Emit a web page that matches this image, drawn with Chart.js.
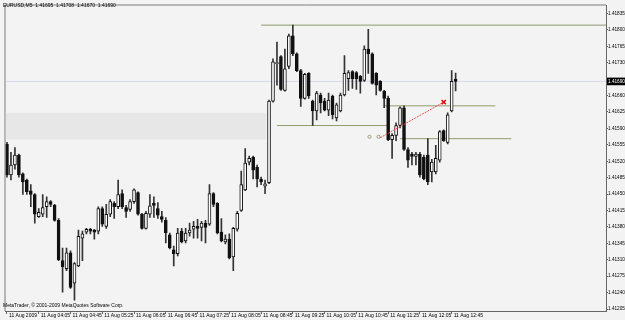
<!DOCTYPE html>
<html>
<head>
<meta charset="utf-8">
<script src="https://cdn.jsdelivr.net/npm/chart.js@4.4.0/dist/chart.umd.min.js"></script>
<style>
  html, body { margin: 0; padding: 0; background: #f3f3f3; }
  #chart { display: block; }
</style>
</head>
<body>
<canvas id="chart" width="625" height="320"></canvas>
<script>
// EURUSD M5 bars, 11 Aug 2009 from 03:25
const symbol = 'EURUSD,M5';
const opens = [
  1.41556, 1.41491, 1.41512, 1.41533, 1.41493, 1.41480, 1.41457, 1.41449, 1.41402, 1.41407,
  1.41423, 1.41434, 1.41426, 1.41394, 1.41308, 1.41291, 1.41325, 1.41260, 1.41297, 1.41356,
  1.41369, 1.41375, 1.41373, 1.41371, 1.41419, 1.41381, 1.41407, 1.41430, 1.41423, 1.41451,
  1.41421, 1.41417, 1.41434, 1.41453, 1.41407, 1.41377, 1.41407, 1.41430, 1.41419, 1.41402,
  1.41394, 1.41363, 1.41331, 1.41323, 1.41371, 1.41350, 1.41367, 1.41375, 1.41381, 1.41379,
  1.41388, 1.41386, 1.41451, 1.41430, 1.41369, 1.41348, 1.41354, 1.41316, 1.41375, 1.41415,
  1.41459, 1.41518, 1.41528, 1.41507, 1.41482, 1.41467, 1.41474, 1.41648, 1.41728, 1.41743,
  1.41671, 1.41722, 1.41787, 1.41749, 1.41713, 1.41654, 1.41707, 1.41648, 1.41627, 1.41661,
  1.41648, 1.41629, 1.41659, 1.41612, 1.41627, 1.41661, 1.41696, 1.41711, 1.41709, 1.41701,
  1.41692, 1.41759, 1.41749, 1.41707, 1.41690, 1.41669, 1.41654, 1.41566, 1.41575, 1.41596,
  1.41634, 1.41545, 1.41535, 1.41530, 1.41535, 1.41528, 1.41533, 1.41497, 1.41497, 1.41522,
  1.41585, 1.41560, 1.41627, 1.41695
];
const highs = [
  1.41560, 1.41539, 1.41549, 1.41535, 1.41495, 1.41482, 1.41470, 1.41451, 1.41419, 1.41449,
  1.41444, 1.41436, 1.41428, 1.41398, 1.41335, 1.41335, 1.41329, 1.41304, 1.41373, 1.41371,
  1.41377, 1.41377, 1.41375, 1.41423, 1.41423, 1.41428, 1.41438, 1.41434, 1.41480, 1.41459,
  1.41426, 1.41438, 1.41461, 1.41455, 1.41409, 1.41413, 1.41449, 1.41444, 1.41432, 1.41413,
  1.41400, 1.41367, 1.41339, 1.41377, 1.41377, 1.41377, 1.41388, 1.41392, 1.41396, 1.41392,
  1.41394, 1.41470, 1.41453, 1.41432, 1.41398, 1.41363, 1.41365, 1.41379, 1.41413, 1.41499,
  1.41547, 1.41531, 1.41531, 1.41512, 1.41486, 1.41480, 1.41650, 1.41738, 1.41774, 1.41745,
  1.41759, 1.41791, 1.41810, 1.41751, 1.41716, 1.41707, 1.41709, 1.41650, 1.41669, 1.41665,
  1.41654, 1.41665, 1.41661, 1.41644, 1.41665, 1.41745, 1.41713, 1.41713, 1.41711, 1.41703,
  1.41766, 1.41801, 1.41751, 1.41709, 1.41692, 1.41671, 1.41659, 1.41579, 1.41602, 1.41636,
  1.41638, 1.41549, 1.41539, 1.41539, 1.41539, 1.41533, 1.41568, 1.41524, 1.41554, 1.41585,
  1.41587, 1.41623, 1.41713, 1.41708
];
const lows = [
  1.41486, 1.41480, 1.41503, 1.41486, 1.41449, 1.41449, 1.41423, 1.41388, 1.41400, 1.41402,
  1.41400, 1.41423, 1.41392, 1.41308, 1.41241, 1.41287, 1.41249, 1.41224, 1.41295, 1.41308,
  1.41365, 1.41365, 1.41354, 1.41365, 1.41381, 1.41377, 1.41402, 1.41398, 1.41419, 1.41419,
  1.41400, 1.41413, 1.41430, 1.41405, 1.41375, 1.41375, 1.41400, 1.41400, 1.41398, 1.41390,
  1.41346, 1.41333, 1.41297, 1.41318, 1.41346, 1.41346, 1.41360, 1.41356, 1.41356, 1.41350,
  1.41346, 1.41383, 1.41423, 1.41365, 1.41348, 1.41344, 1.41312, 1.41287, 1.41371, 1.41413,
  1.41457, 1.41512, 1.41482, 1.41465, 1.41470, 1.41451, 1.41472, 1.41646, 1.41682, 1.41671,
  1.41669, 1.41717, 1.41745, 1.41711, 1.41637, 1.41652, 1.41654, 1.41596, 1.41608, 1.41623,
  1.41627, 1.41617, 1.41610, 1.41606, 1.41625, 1.41659, 1.41671, 1.41675, 1.41673, 1.41665,
  1.41690, 1.41707, 1.41684, 1.41661, 1.41669, 1.41634, 1.41564, 1.41526, 1.41564, 1.41591,
  1.41543, 1.41507, 1.41512, 1.41512, 1.41486, 1.41480, 1.41470, 1.41476, 1.41493, 1.41518,
  1.41562, 1.41557, 1.41625, 1.41670
];
const closes = [
  1.41491, 1.41512, 1.41533, 1.41491, 1.41476, 1.41455, 1.41449, 1.41407, 1.41411, 1.41421,
  1.41434, 1.41428, 1.41394, 1.41310, 1.41295, 1.41325, 1.41251, 1.41302, 1.41360, 1.41365,
  1.41375, 1.41371, 1.41369, 1.41419, 1.41386, 1.41407, 1.41434, 1.41423, 1.41449, 1.41423,
  1.41413, 1.41434, 1.41459, 1.41407, 1.41377, 1.41409, 1.41425, 1.41426, 1.41405, 1.41396,
  1.41367, 1.41335, 1.41323, 1.41367, 1.41348, 1.41367, 1.41373, 1.41381, 1.41377, 1.41388,
  1.41379, 1.41451, 1.41428, 1.41367, 1.41350, 1.41354, 1.41314, 1.41377, 1.41409, 1.41470,
  1.41516, 1.41526, 1.41501, 1.41482, 1.41476, 1.41472, 1.41648, 1.41732, 1.41730, 1.41673,
  1.41717, 1.41787, 1.41749, 1.41713, 1.41654, 1.41705, 1.41659, 1.41627, 1.41665, 1.41644,
  1.41629, 1.41650, 1.41619, 1.41640, 1.41661, 1.41707, 1.41709, 1.41696, 1.41696, 1.41690,
  1.41759, 1.41749, 1.41686, 1.41682, 1.41671, 1.41654, 1.41566, 1.41575, 1.41596, 1.41634,
  1.41545, 1.41522, 1.41530, 1.41535, 1.41491, 1.41482, 1.41476, 1.41518, 1.41526, 1.41583,
  1.41564, 1.41619, 1.41690, 1.41690
];

// axis labels
const timeTickIndex = [0, 8, 16, 24, 32, 40, 48, 56, 64, 72, 80, 88, 96, 104, 112];
const timeLabels = [
  '11 Aug 2009', '11 Aug 04:05', '11 Aug 04:45', '11 Aug 05:25', '11 Aug 06:05',
  '11 Aug 06:45', '11 Aug 07:25', '11 Aug 08:05', '11 Aug 08:45', '11 Aug 09:25',
  '11 Aug 10:05', '11 Aug 10:45', '11 Aug 11:25', '11 Aug 12:05', '11 Aug 12:45'
];
const priceTicks = [
  1.41835, 1.41800, 1.41765, 1.41730, 1.41690, 1.41660, 1.41625, 1.41590, 1.41555, 1.41520,
  1.41485, 1.41450, 1.41415, 1.41380, 1.41345, 1.41310, 1.41275, 1.41240, 1.41205
];

// objects drawn on the chart
const levelPrices = [1.41810, 1.41638, 1.41596, 1.41568];
const levelFrom = [64, 95, 68, 99];
const levelTo = [152, 123, 96, 127];
const bandPrices = [1.41623, 1.41566];
const bandTo = 65.3;
const trendIndex = [94, 110];
const trendPrices = [1.41570, 1.41646];
const arrowIndex = [91.3, 93.6];
const arrowPrice = 1.41572;

const lastClose = closes[closes.length - 1];
const xMin = -0.375, xMax = 150.875;
const yMin = 1.412008, yMax = 1.418518;
const tickFont = { family: 'Liberation Sans, Arial, sans-serif', size: 5 };
const priceFont = { family: 'Liberation Sans, Arial, sans-serif', size: 4.7 };

const isLast = v => Math.abs(v - lastClose) < 1e-7;
const hline = (price, from, to) => [{ x: from, y: price }, { x: to, y: price }];

document.addEventListener('DOMContentLoaded', () => {
    const ctx = document.getElementById('chart').getContext('2d');

    const wickData = highs.map((h, i) => ({ x: i, y: [lows[i], h] }));
    const bodyData = opens.map((o, i) => ({ x: i, y: [o, closes[i]] }));

    const levelSets = levelPrices.map((p, k) => ({
        type: 'line',
        data: hline(p, levelFrom[k], levelTo[k]),
        borderColor: '#8f9c6c',
        borderWidth: 1,
        pointRadius: 0,
        order: 5
    }));

    const frame = {
        id: 'frame',
        beforeDraw(chart) {
            const c = chart.ctx, a = chart.chartArea;
            c.save();
            c.fillStyle = '#f3f3f3';
            c.fillRect(0, 0, chart.width, chart.height);
            c.strokeStyle = '#7a7a7a';
            c.lineWidth = 1;
            c.beginPath();
            c.moveTo(a.left - 0.5, a.bottom);
            c.lineTo(a.left - 0.5, a.top - 0.5);
            c.lineTo(a.right, a.top - 0.5);
            c.stroke();
            c.restore();
        },
        afterDraw(chart) {
            const c = chart.ctx;
            const n = opens.length - 1;
            const f = v => v.toFixed(5);
            c.save();
            c.fillStyle = '#000';
            c.font = '5px "Liberation Sans", Arial, sans-serif';
            c.textBaseline = 'middle';
            c.fillText(`${symbol}  ${f(opens[n])}  ${f(highs[n])}  ${f(lows[n])}  ${f(closes[n])}`, 3, 6);
            c.fillText('MetaTrader, \u00a9 2001-2009 MetaQuotes Software Corp.', 3, 306);
            c.restore();
        }
    };

    new Chart(ctx, {
        type: 'bar',
        data: {
            datasets: [
                {
                    // candle bodies
                    data: bodyData,
                    barThickness: 3,
                    borderWidth: 1,
                    borderColor: '#111',
                    borderSkipped: false,
                    minBarLength: 1,
                    grouped: false,
                    backgroundColor: c => closes[c.dataIndex] >= opens[c.dataIndex] ? '#fff' : '#111',
                    order: 1
                },
                {
                    // high-low wicks
                    data: wickData,
                    barThickness: 1,
                    borderWidth: 0,
                    grouped: false,
                    backgroundColor: '#333',
                    order: 2
                },
                ...levelSets,
                {
                    type: 'line',
                    data: hline(lastClose, xMin, xMax),
                    borderColor: '#d5d9ec',
                    borderWidth: 1,
                    pointRadius: 0,
                    order: 8
                },
                {
                    type: 'line',
                    data: hline(bandPrices[0], xMin, bandTo),
                    borderWidth: 0,
                    pointRadius: 0,
                    fill: '+1',
                    backgroundColor: '#e7e7e7',
                    order: 10
                },
                {
                    type: 'line',
                    data: hline(bandPrices[1], xMin, bandTo),
                    borderWidth: 0,
                    pointRadius: 0,
                    order: 10
                },
                {
                    type: 'line',
                    data: [{ x: trendIndex[0], y: trendPrices[0] }, { x: trendIndex[1], y: trendPrices[1] }],
                    borderColor: '#f04a4a',
                    borderWidth: 1,
                    borderDash: [2, 1],
                    pointRadius: [0, 3],
                    pointStyle: 'crossRot',
                    pointBorderColor: '#e00000',
                    pointBorderWidth: 1.5,
                    order: 0
                },
                {
                    type: 'line',
                    data: arrowIndex.map(x => ({ x, y: arrowPrice })),
                    showLine: false,
                    pointRadius: 1.6,
                    pointStyle: 'circle',
                    pointBorderColor: '#9aa57a',
                    pointBackgroundColor: 'rgba(0,0,0,0)',
                    pointBorderWidth: 1,
                    order: 0
                }
            ]
        },
        options: {
            responsive: false,
            animation: false,
            events: [],
            layout: { padding: { left: 1, top: 1, right: 0, bottom: 0 } },
            plugins: { legend: { display: false }, tooltip: { enabled: false } },
            scales: {
                x: {
                    type: 'linear',
                    min: xMin,
                    max: xMax,
                    offset: false,
                    afterBuildTicks: s => { s.ticks = timeTickIndex.map(v => ({ value: v })); },
                    afterFit: s => { s.height = 9; },
                    border: { display: true, color: '#666' },
                    grid: { offset: false, drawOnChartArea: false, tickLength: 3, tickColor: '#666' },
                    ticks: {
                        align: 'start',
                        labelOffset: 2,
                        padding: -1,
                        maxRotation: 0,
                        autoSkip: false,
                        font: tickFont,
                        color: '#000',
                        callback: v => timeLabels[timeTickIndex.indexOf(v)]
                    }
                },
                y: {
                    position: 'right',
                    min: yMin,
                    max: yMax,
                    bounds: 'data',
                    afterBuildTicks: s => { s.ticks = priceTicks.map(v => ({ value: v })); },
                    afterFit: s => { s.width = 19; },
                    border: { display: true, color: '#666' },
                    grid: { drawOnChartArea: false, tickLength: 2, tickColor: '#666' },
                    ticks: {
                        padding: 0,
                        font: priceFont,
                        color: c => isLast(c.tick.value) ? '#fff' : '#000',
                        showLabelBackdrop: c => isLast(c.tick.value),
                        backdropColor: '#000',
                        backdropPadding: { top: 1, bottom: 1, left: 1, right: 2 },
                        callback: v => v.toFixed(5)
                    }
                }
            }
        },
        plugins: [frame]
    });
});
</script>
</body>
</html>
